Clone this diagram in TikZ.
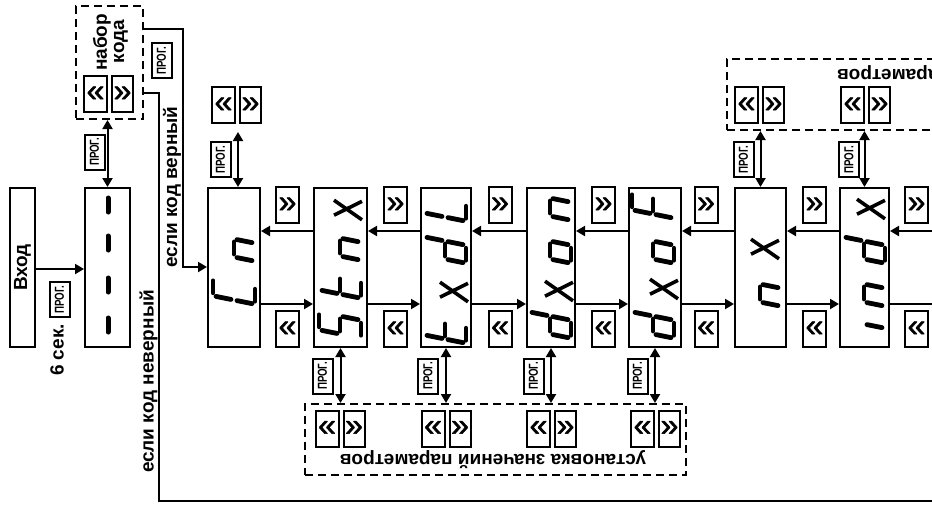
\documentclass[tikz,border=0pt]{standalone}
\usepackage{fontspec}
\setmainfont{Liberation Sans}
\newfontfamily\narrowfont[FakeStretch=0.75]{Liberation Sans}
\newfontfamily\chevfont[FakeBold=1.5]{Liberation Sans}
\usetikzlibrary{arrows.meta,calc}
\tikzset{
  segm/.style={line width=4.8pt,line cap=round},
  lab/.style={font=\fontsize{19}{21}\selectfont\bfseries,inner sep=0pt},
  disp/.style={draw,line width=2pt,minimum height=159pt,inner sep=0pt},
  btn/.style={draw,line width=2pt,minimum width=23pt,minimum height=36pt,inner sep=0pt,font=\chevfont\fontsize{32}{32}\selectfont},
  btnr/.style={btn,minimum width=21pt},
  prog/.style={draw,line width=2pt,rotate=90,minimum width=35pt,minimum height=20pt,inner sep=0pt,font=\narrowfont\fontsize{13}{14}\selectfont\bfseries},
  dashbox/.style={draw,line width=2pt,dash pattern=on 8pt off 5pt,inner sep=0pt},
  link/.style={line width=2pt,-{Triangle[length=9pt,width=10pt]}},
  wire/.style={line width=2pt},
  both/.style={line width=2pt,{Triangle[length=9pt,width=10pt]}-{Triangle[length=9pt,width=10pt]}},
}
% one slanted character of the display, lying on its side
\newcommand{\sevseg}[3]{%
  \begin{scope}[shift={(#1,#2)},x={(0pt,1pt)},y={(-1pt,0.2pt)}]
    \foreach \s/\ua/\va/\ub/\vb in {a/-6/21/6/21,b/9/18/9/3,c/9/-3/9/-18,d/-6/-21/6/-21,
        e/-9/-3/-9/-18,f/-9/18/-9/3,g/-6/0/6/0}{
      \coordinate (\s1) at (\ua,\va);
      \coordinate (\s2) at (\ub,\vb);
    }
    \foreach \s in {#3}{\draw[segm] (\s1) -- (\s2);}
  \end{scope}}
\newcommand{\xglyph}[2]{%
  \begin{scope}[shift={(#1,#2)},x={(0pt,1pt)},y={(-1pt,0.2pt)}]
    \draw[line width=3.6pt] (-9,14) -- (10.5,-14);
    \draw[line width=3.6pt] (6,14) -- (-8,-14);
  \end{scope}}
\begin{document}
\begin{tikzpicture}[x=1pt,y=-1pt]
  \useasboundingbox (0,0) rectangle (932,504);
  \coordinate (rowTop) at (0,231);
  \coordinate (rowBot) at (0,304);
  \coordinate (edgeTop) at (932,231);
  \coordinate (edgeBot) at (932,304);

  % input and code entry
  \node[disp,rotate=90,minimum width=159pt,minimum height=25pt,lab] (vhod) at (22.5,267.5) {Вход};
  \node[disp,minimum width=45pt] (dashes) at (107.5,267.5) {};
  \foreach \y in {205,243,285,325}{\draw[segm,line width=5pt] (108,\y-7) -- (108,\y+7);}
  \node[dashbox,minimum width=67pt,minimum height=113pt] (codeBox) at (109.5,62.5) {};
  \node[lab,rotate=90] (nabor) at (102,42.5) {набор};
  \node[lab,rotate=90] (koda) at (121,41.5) {кода};
  \node[btn] (codeL) at (95.5,94) {«};
  \node[btnr] (codeR) at (122.5,94) {»};
  \node[prog] (progV) at (59.5,299.5) {ПРОГ.};
  \node[lab,rotate=90] (sek) at (57,350) {6 сек.};
  \node[prog] (progC) at (94.5,152) {ПРОГ.};
  \node[prog] (progW) at (161.5,60.5) {ПРОГ.};
  \draw[link] (vhod.south |- 0,269) -- (dashes.west |- 0,269);
  \draw[both] (dashes.north) -- (codeBox.south -| dashes.north);

  % displays along the row
  \foreach \nm/\x/\w in {Cn/234/52,St/340.5/53,Td/446/50,Dn/551/48,Df/655/52,Nx/760.5/51,In/864.5/49}
    \node[disp,minimum width=\w] (disp\nm) at (\x,267.5) {};

  \sevseg{234}{291}{a,f,e,d}
  \sevseg{234}{248}{g,e,c}
  \sevseg{340}{325}{a,f,g,c,d}
  \sevseg{340}{285}{f,g,e,d}
  \sevseg{340}{247}{g,e,c}
  \xglyph{348}{209}
  \sevseg{445}{330}{f,g,e,d}
  \xglyph{454}{291}
  \sevseg{445}{250}{b,c,d,e,g}
  \sevseg{445}{208}{f,e,d}
  \sevseg{550}{325}{b,c,d,e,g}
  \xglyph{559}{290}
  \sevseg{550}{250}{g,c,d,e}
  \sevseg{550}{207}{g,e,c}
  \sevseg{653}{325}{b,c,d,e,g}
  \xglyph{664}{288}
  \sevseg{653}{250}{g,c,d,e}
  \sevseg{653}{205}{a,f,g,e}
  \sevseg{760}{293}{g,e,c}
  \xglyph{765}{248}
  \sevseg{864}{315}{e}
  \sevseg{864}{293}{g,e,c}
  \sevseg{864}{250}{b,c,d,e,g}
  \xglyph{871}{208}

  % buttons between the displays
  \foreach \x in {287.5,395.5,500,603.5,706,814.5,916.5}{
    \node[btn] (fwd\x) at (\x,205) {»};
    \node[btn] (back\x) at (\x,329) {«};
  }
  \foreach \a/\b in {St/Cn,Td/St,Dn/Td,Df/Dn,Nx/Df,In/Nx}
    \draw[link] (disp\a.west |- rowTop) -- (disp\b.east |- rowTop);
  \foreach \a/\b in {Cn/St,St/Td,Td/Dn,Dn/Df,Df/Nx,Nx/In}
    \draw[link] (disp\a.east |- rowBot) -- (disp\b.west |- rowBot);
  \draw[link] (edgeTop) -- (dispIn.east |- rowTop);
  \draw[wire] (dispIn.east |- rowBot) -- (edgeBot);

  % buttons above the first display
  \node[btn] (cnL) at (223.5,105) {«};
  \node[btnr] (cnR) at (250.5,105) {»};
  \coordinate (cnTip) at (238,132);
  \node[prog] (progCn) at (220.5,159.5) {ПРОГ.};
  \draw[both] (dispCn.north -| cnTip) -- (cnTip);

  % values, top group
  \node[dashbox,minimum width=218pt,minimum height=71pt] (topBox) at (836,94.5) {};
  \node[lab,rotate=180,anchor=east] (topText) at (837,73) {параметров};
  \foreach \x/\nm in {746.5/A,852.5/B}{
    \node[btn] (topL\nm) at (\x,105) {«};
    \node[btnr] (topR\nm) at ($(\x,105)+(27,0)$) {»};
  }
  \node[prog] (progNx) at (743.5,159.5) {ПРОГ.};
  \node[prog] (progIn) at (849,159.5) {ПРОГ.};
  \draw[both] (dispNx.north) -- (topBox.south -| dispNx.north);
  \draw[both] (dispIn.north) -- (topBox.south -| dispIn.north);

  % values, bottom group
  \node[dashbox,minimum width=381pt,minimum height=71pt] (botBox) at (495.5,439.5) {};
  \node[lab,rotate=180] (botText) at (493,460) {установка значений параметров};
  \foreach \x/\nm in {327/A,433/B,538.5/C,642.5/D}{
    \node[btn] (botL\nm) at (\x,428.5) {«};
    \node[btnr] (botR\nm) at ($(\x,428.5)+(27,0)$) {»};
  }
  \foreach \nm/\x in {St/322.5,Td/428,Dn/533.5,Df/637.5}
    \node[prog] (prog\nm) at (\x,376) {ПРОГ.};
  \foreach \nm in {St,Td,Dn,Df}
    \draw[both] (disp\nm.south) -- (botBox.north -| disp\nm.south);

  % code branches
  \coordinate (okTurn) at (183,29);
  \coordinate (badTurn) at (159,93);
  \coordinate (badEnd) at (932,501);
  \draw[link] (codeBox.east |- okTurn) -- (okTurn) |- (dispCn.west |- 0,267);
  \draw[wire] (codeBox.east |- badTurn) -- (badTurn) |- (badEnd);
  \node[lab,rotate=90] (okText) at (172,187) {если код верный};
  \node[lab,rotate=90] (badText) at (148.5,381.5) {если код неверный};
\end{tikzpicture}
\end{document}
